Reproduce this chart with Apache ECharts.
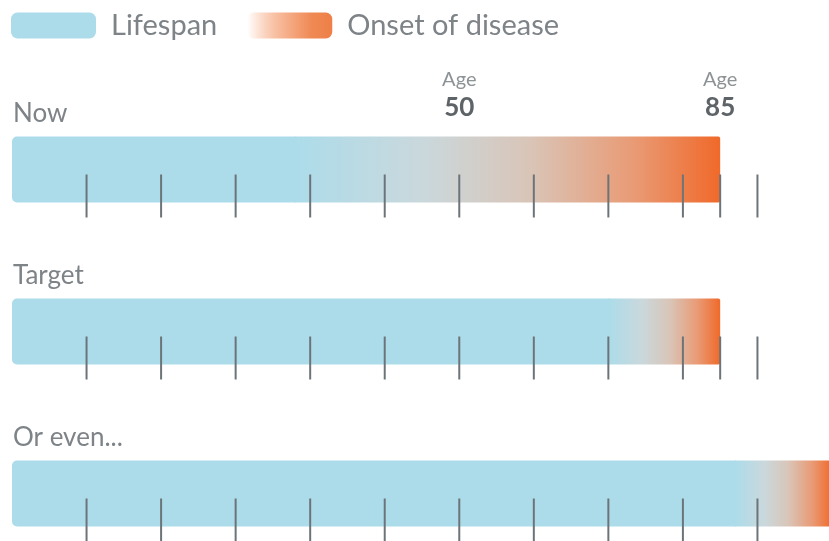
<!DOCTYPE html>
<html>
<head>
<meta charset="utf-8">
<script src="https://cdn.jsdelivr.net/npm/echarts@6/dist/echarts.min.js"></script>
<style>
html,body{margin:0;padding:0;background:#fff;}
#chart{width:829px;height:541px;}
</style>
</head>
<body>
<div id="chart"></div>
<script>
// ---- data ----
const categories = ['Now', 'Target', 'Or even...'];
const barStart = [-10, -10, -10];
const onsetStart = [28, 70, 87];
const onsetEnd = [85, 85, 100];
const tickAges = [0, 10, 20, 30, 40, 50, 60, 70, 80, 90, 100];
const endMarks = [85, 85, null];
const ageMarks = [50, 85];
const ageMarkRow = 0;

// ---- styles ----
const FONT = 'Lato, "Open Sans", sans-serif';
const BLUE = '#acdcea';
const TEXT = '#7e8387';
const BAR_H = 66;

const onsetGradient = {
  type: 'linear', x: 0, y: 0, x2: 1, y2: 0,
  colorStops: [
    { offset: 0, color: BLUE },
    { offset: 0.3, color: '#cad8dc' },
    { offset: 0.55, color: '#d9c5b8' },
    { offset: 0.8, color: '#e99a74' },
    { offset: 1, color: '#f0692a' }
  ]
};
const legendOnset = {
  type: 'linear', x: 0, y: 0, x2: 1, y2: 0,
  colorStops: [
    { offset: 0, color: 'rgba(244,150,100,0)' },
    { offset: 0.45, color: '#f6b08c' },
    { offset: 0.75, color: '#ef8a55' },
    { offset: 1, color: '#ee7f47' }
  ]
};

const lifespanData = categories.map((c, i) => [barStart[i], onsetStart[i], i]);
const onsetData = categories.map((c, i) => [onsetStart[i], onsetEnd[i], i]);
const tickData = [];
categories.forEach((c, i) => {
  tickAges.forEach(a => tickData.push([a, i]));
  if (endMarks[i] != null) tickData.push([endMarks[i], i]);
});
const ageData = ageMarks.map(a => [a, ageMarkRow]);

const chart = echarts.init(document.getElementById('chart'), null, { renderer: 'canvas' });

chart.setOption({
  animation: false,
  backgroundColor: '#ffffff',
  legend: {
    left: 11, top: 11, padding: 0,
    itemWidth: 85, itemHeight: 26, itemGap: 30,
    icon: 'roundRect',
    textStyle: { fontSize: 29, color: TEXT, fontFamily: FONT, padding: [0, 0, 0, 10] },
    data: [
      { name: 'Lifespan', itemStyle: { color: BLUE } },
      { name: 'Onset of disease', itemStyle: { color: legendOnset } }
    ]
  },
  grid: { left: 12, width: 820, top: 169.5, bottom: 47.5, outerBoundsMode: 'none' },
  xAxis: { type: 'value', min: -10, max: 100, show: false },
  yAxis: { type: 'category', data: categories, inverse: true, boundaryGap: false, show: false },
  series: [
    {
      name: 'Lifespan', type: 'custom', itemStyle: { color: BLUE },
      data: lifespanData,
      renderItem: (params, api) => {
        const p0 = api.coord([api.value(0), api.value(2)]);
        const p1 = api.coord([api.value(1), api.value(2)]);
        const idx = api.value(2);
        return {
          type: 'group',
          children: [
            {
              type: 'rect',
              shape: { x: p0[0], y: p0[1] - BAR_H / 2, width: p1[0] - p0[0] + 1, height: BAR_H, r: [5, 0, 0, 5] },
              style: { fill: BLUE }
            },
            {
              type: 'text',
              style: {
                x: p0[0] + 1, y: p0[1] - BAR_H / 2 - 10,
                text: categories[idx], fill: TEXT, fontSize: 26, fontFamily: FONT,
                verticalAlign: 'bottom', align: 'left'
              }
            }
          ]
        };
      }
    },
    {
      name: 'Onset of disease', type: 'custom', itemStyle: { color: legendOnset },
      data: onsetData, z: 3,
      renderItem: (params, api) => {
        const p0 = api.coord([api.value(0), api.value(2)]);
        const p1 = api.coord([api.value(1), api.value(2)]);
        return {
          type: 'rect',
          shape: { x: p0[0], y: p0[1] - BAR_H / 2, width: p1[0] - p0[0], height: BAR_H, r: [0, 2, 2, 0] },
          style: { fill: onsetGradient }
        };
      }
    },
    {
      name: 'ticks', type: 'custom', data: tickData, z: 5, silent: true,
      renderItem: (params, api) => {
        const p = api.coord([api.value(0), api.value(1)]);
        return {
          type: 'line',
          shape: { x1: p[0], y1: p[1] + 5, x2: p[0], y2: p[1] + 48 },
          style: { stroke: '#6c7479', lineWidth: 2 }
        };
      }
    },
    {
      name: 'ageLabels', type: 'custom', data: ageData, z: 5, silent: true,
      renderItem: (params, api) => {
        const p = api.coord([api.value(0), api.value(1)]);
        return {
          type: 'group',
          children: [
            {
              type: 'text',
              style: { x: p[0], y: p[1] - 80, text: 'Age', fill: '#8d9295', fontSize: 20, fontFamily: FONT, align: 'center', verticalAlign: 'bottom' }
            },
            {
              type: 'text',
              style: { x: p[0], y: p[1] - 49, text: String(api.value(0)), fill: '#5d6367', fontSize: 26, fontWeight: 'bold', fontFamily: FONT, align: 'center', verticalAlign: 'bottom' }
            }
          ]
        };
      }
    }
  ]
});
</script>
</body>
</html>
